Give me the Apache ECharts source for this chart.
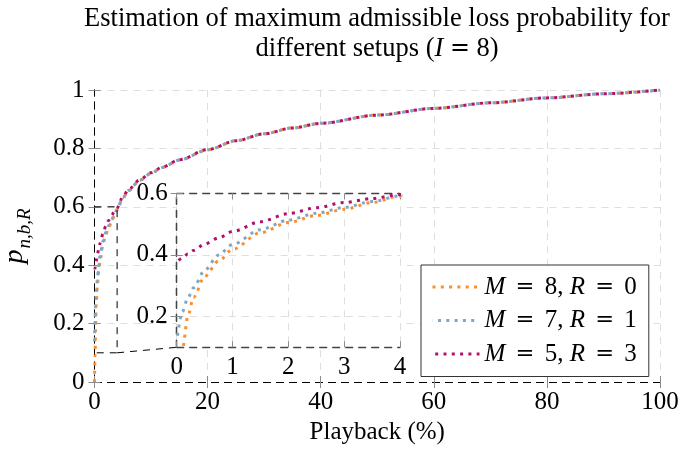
<!DOCTYPE html>
<html>
<head>
<meta charset="utf-8">
<script src="https://cdn.jsdelivr.net/npm/echarts@6/dist/echarts.min.js"></script>
<style>html,body{margin:0;padding:0;background:#fff;}#c{width:680px;height:455px;}</style>
</head>
<body>
<div id="c"></div>
<script>
// ---- data ----
const playback = [0, 0.1, 0.2, 0.3, 0.5, 0.75, 1, 1.5, 2, 2.5, 3, 3.5, 4, 5, 6, 8, 10, 12, 15, 20, 25, 30, 35, 40, 50, 60, 70, 80, 90, 100];
const pM8R0 = [0, 0.09, 0.2, 0.262, 0.33, 0.38, 0.418, 0.472, 0.505, 0.528, 0.548, 0.57, 0.591, 0.63, 0.655, 0.69, 0.715, 0.735, 0.76, 0.795, 0.826, 0.85, 0.87, 0.886, 0.914, 0.937, 0.956, 0.973, 0.987, 1.0];
const pM7R1 = [0.12, 0.215, 0.26, 0.293, 0.35, 0.4, 0.434, 0.482, 0.513, 0.535, 0.554, 0.573, 0.592, 0.631, 0.656, 0.691, 0.715, 0.735, 0.76, 0.795, 0.826, 0.85, 0.87, 0.886, 0.914, 0.937, 0.956, 0.973, 0.987, 1.0];
const pM5R3 = [0.376, 0.39, 0.403, 0.414, 0.435, 0.455, 0.476, 0.508, 0.534, 0.553, 0.57, 0.583, 0.596, 0.634, 0.659, 0.693, 0.717, 0.736, 0.761, 0.796, 0.826, 0.85, 0.87, 0.886, 0.914, 0.937, 0.956, 0.973, 0.987, 1.0];
const seriesNames = ['M8R0', 'M7R1', 'M5R3'];
const legendLabels = {M8R0: ['8', '0'], M7R1: ['7', '1'], M5R3: ['5', '3']};
const colors = ['#fb8f2a', '#80a6c4', '#b3106e'];
const insetYTicks = [0.2, 0.4, 0.6];
const zoomBoxX = [0, 4];
const zoomBoxY = [0.1, 0.6];

const FONT = 'Liberation Serif';
const FS = 25;
const EQ = ' {eq|=} ';
const pairs = ys => playback.map((x, i) => [x, ys[i]]);
const allSeries = [pM8R0, pM7R1, pM5R3];

const dashBlack = {show: true, lineStyle: {color: '#000', width: 1, type: [7, 6]}};
const dashInset = {show: true, lineStyle: {color: '#444', width: 1.3, type: [7, 6]}};
const tickIn = {show: true, inside: true, length: 6, lineStyle: {color: '#8c8c8c', width: 1}};
const gridLine = {show: true, lineStyle: {color: '#dedede', width: 1, type: [7, 6]}};
const lab = {color: '#000', fontFamily: FONT, fontSize: FS};
const mathRich = (fs, lh, pad) => ({
  i: {fontFamily: FONT, fontSize: fs, fontStyle: 'italic', color: '#000', lineHeight: lh},
  eq: {fontFamily: 'DejaVu Serif', fontSize: fs * 0.9, color: '#000', lineHeight: lh, padding: [0, pad]}
});

const curve = (i, xi, yi, z) => ({
  name: seriesNames[i], type: 'line', xAxisIndex: xi, yAxisIndex: yi,
  data: pairs(allSeries[i]), symbol: 'none', showSymbol: false,
  smooth: 0.3, smoothMonotone: 'x', z: z, silent: true, animation: false,
  lineStyle: {color: colors[i], width: 3, type: [3, 5.3], cap: 'butt', dashOffset: i * 2.8},
  itemStyle: {color: colors[i]}
});

const chart = echarts.init(document.getElementById('c'), null, {renderer: 'canvas'});
chart.setOption({
  animation: false,
  title: {
    text: 'Estimation of maximum admissible loss probability for\ndifferent setups ({i|I}' + EQ + '8)',
    left: 377, top: 4, textAlign: 'center', padding: 0,
    textStyle: {fontFamily: FONT, fontSize: 26.5, fontWeight: 'normal', color: '#000', lineHeight: 30,
      rich: mathRich(26.5, 30, 0)}
  },
  grid: [
    {left: 94.5, right: 20, top: 90, bottom: 73, containLabel: false, outerBoundsMode: 'none'},
    {left: 176.7, width: 223.3, top: 193.3, height: 154, show: true, backgroundColor: '#fff', borderWidth: 0, z: 3, containLabel: false, outerBoundsMode: 'none'}
  ],
  xAxis: [
    {gridIndex: 0, type: 'value', min: 0, max: 100, interval: 20, position: 'bottom',
     axisLine: dashBlack, axisTick: tickIn, splitLine: gridLine,
     axisLabel: Object.assign({margin: 8}, lab),
     name: 'Playback (%)', nameLocation: 'middle', nameGap: 34,
     nameTextStyle: {fontFamily: FONT, fontSize: FS, color: '#000'}},
    {gridIndex: 1, type: 'value', min: 0, max: 4, interval: 1, position: 'bottom', z: 4,
     axisLine: dashInset, axisTick: tickIn, splitLine: gridLine,
     axisLabel: Object.assign({margin: 8}, lab)},
    {gridIndex: 0, type: 'value', min: 0, max: 100, interval: 20, position: 'top',
     axisLine: dashBlack, axisTick: tickIn, splitLine: {show: false}, axisLabel: {show: false}},
    {gridIndex: 1, type: 'value', min: 0, max: 4, interval: 1, position: 'top', z: 4,
     axisLine: dashInset, axisTick: tickIn, splitLine: {show: false}, axisLabel: {show: false}}
  ],
  yAxis: [
    {gridIndex: 0, type: 'value', min: 0, max: 1, interval: 0.2, position: 'left',
     axisLine: dashBlack, axisTick: tickIn, splitLine: gridLine,
     axisLabel: Object.assign({margin: 10}, lab),
     name: '{p|p}{s|n,b,R}', nameLocation: 'middle', nameGap: 60, nameRotate: 90,
     nameTextStyle: {fontFamily: FONT, fontSize: FS, color: '#000',
       rich: {p: {fontFamily: FONT, fontSize: 28, fontStyle: 'italic', color: '#000', verticalAlign: 'bottom', padding: [0, 1, 6, 0]},
              s: {fontFamily: FONT, fontSize: 19, fontStyle: 'italic', color: '#000', verticalAlign: 'bottom'}}}},
    {gridIndex: 1, type: 'value', min: 0.1, max: 0.6, position: 'left', z: 4,
     axisLine: dashInset,
     axisTick: Object.assign({customValues: insetYTicks}, tickIn),
     splitLine: gridLine,
     axisLabel: Object.assign({margin: 9, customValues: insetYTicks}, lab)},
    {gridIndex: 0, type: 'value', min: 0, max: 1, interval: 0.2, position: 'right',
     axisLine: dashBlack, axisTick: tickIn, splitLine: {show: false}, axisLabel: {show: false}},
    {gridIndex: 1, type: 'value', min: 0.1, max: 0.6, position: 'right', z: 4,
     axisLine: dashInset, axisTick: Object.assign({customValues: insetYTicks}, tickIn),
     splitLine: {show: false}, axisLabel: {show: false}}
  ],
  legend: {
    data: seriesNames, orient: 'vertical', left: 421, top: 265,
    itemWidth: 47, itemHeight: 25, itemGap: 8.5,
    padding: [9.5, 12, 10, 10],
    borderColor: '#333', borderWidth: 1, borderRadius: 0, backgroundColor: '#fff',
    selectedMode: false,
    itemStyle: {opacity: 0},
    lineStyle: {width: 3, type: [3, 5.3], cap: 'butt'},
    formatter: n => '{i|M}' + EQ + legendLabels[n][0] + ', {i|R}' + EQ + legendLabels[n][1],
    textStyle: {fontFamily: FONT, fontSize: FS, color: '#000', lineHeight: 25, rich: mathRich(FS, 25, 4)}
  },
  series: [
    curve(0, 0, 0, 2), curve(1, 0, 0, 2), curve(2, 0, 0, 2),
    {name: 'zoombox', type: 'line', xAxisIndex: 0, yAxisIndex: 0, symbol: 'none', silent: true, z: 3,
     data: [[zoomBoxX[0], zoomBoxY[1]], [zoomBoxX[1], zoomBoxY[1]], [zoomBoxX[1], zoomBoxY[0]], [zoomBoxX[0], zoomBoxY[0]]],
     lineStyle: {color: '#000', width: 1, type: [7, 6]}},
    curve(0, 1, 1, 5), curve(1, 1, 1, 5), curve(2, 1, 1, 5)
  ]
});

// connector from zoom box corner to inset corner, placed through the axes' own scales
const p1 = chart.convertToPixel({xAxisIndex: 0, yAxisIndex: 0}, [zoomBoxX[1], zoomBoxY[0]]);
const p2 = chart.convertToPixel({xAxisIndex: 1, yAxisIndex: 1}, [zoomBoxX[0], zoomBoxY[0]]);
chart.setOption({
  graphic: [{type: 'line', silent: true, z: 3,
    shape: {x1: p1[0], y1: p1[1], x2: p2[0], y2: p2[1]},
    style: {stroke: '#000', lineWidth: 1, lineDash: [7, 6]}}]
});
</script>
</body>
</html>
